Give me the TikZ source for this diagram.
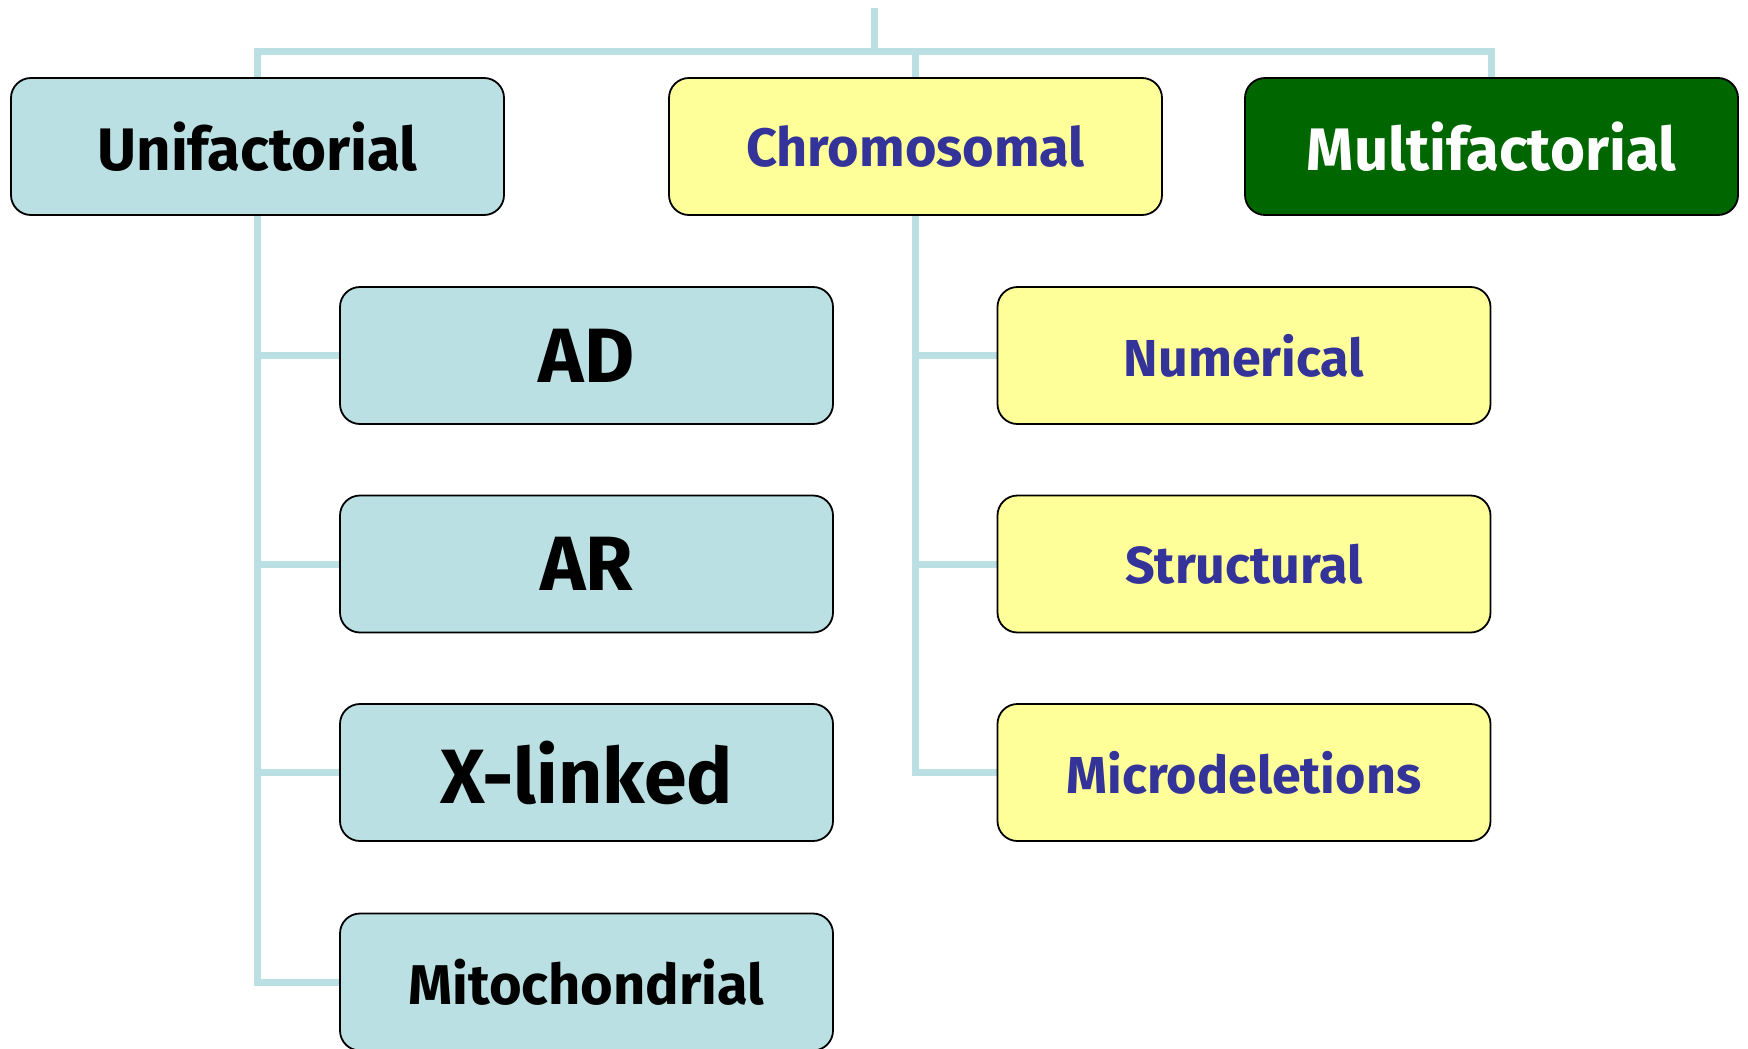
\documentclass[tikz,border=0pt]{standalone}
\usepackage{fontspec}
\setmainfont{Fira Sans}
\usetikzlibrary{backgrounds}
\definecolor{lblue}{HTML}{BBE0E3}
\definecolor{lyellow}{HTML}{FFFF99}
\definecolor{dgreen}{HTML}{006600}
\definecolor{tblue}{HTML}{333399}
\tikzset{
  box/.style={draw=black, line width=1.8pt, rounded corners=20pt, minimum width=493pt, minimum height=137pt, inner sep=0pt, font=\fontsize{60}{72}\selectfont\bfseries},
  bluebox/.style={box, fill=lblue, text=black},
  yelbox/.style={box, fill=lyellow, text=tblue},
  grnbox/.style={box, fill=dgreen, text=white},
  big/.style={font=\fontsize{77}{90}\selectfont\bfseries},
  fs/.style={font=\fontsize{#1}{#1}\selectfont\bfseries},
  conn/.style={draw=lblue, line width=7pt}
}
\begin{document}
\begin{tikzpicture}[x=1pt, y=-1pt]
\useasboundingbox (0,0) rectangle (1748,1049);
\clip (0,0) rectangle (1748,1049);
\node[bluebox] (uni) at (257.5,146.5) {Unifactorial};
\node[yelbox, fs=54] (chrom) at (915.5,146.5) {Chromosomal};
\node[grnbox] (multi) at (1491.5,146.5) {Multifactorial};
\node[bluebox, big] (ad) at (586.5,355.5) {AD};
\node[bluebox, big] (ar) at (586.5,564) {AR};
\node[bluebox, big] (xl) at (586.5,772.5) {X-linked};
\node[bluebox, fs=56] (mito) at (586.5,982) {Mitochondrial};
\node[yelbox, fs=52] (num) at (1244,355.5) {Numerical};
\node[yelbox, fs=52] (str) at (1244,564) {Structural};
\node[yelbox, fs=52] (micro) at (1244,772.5) {Microdeletions};
\coordinate (top) at (874,8);
\coordinate (bar) at (874,52);
\begin{pgfonlayer}{background}
\draw[conn] (top) -- (bar);
\draw[conn] (uni.north) |- (bar) -| (multi.north);
\draw[conn] (chrom.north) -- (chrom.north |- bar);
\draw[conn] (uni.south) |- (mito.west);
\draw[conn] (uni.south |- ad.west) -- (ad.west);
\draw[conn] (uni.south |- ar.west) -- (ar.west);
\draw[conn] (uni.south |- xl.west) -- (xl.west);
\draw[conn] (chrom.south) |- (micro.west);
\draw[conn] (chrom.south |- num.west) -- (num.west);
\draw[conn] (chrom.south |- str.west) -- (str.west);
\end{pgfonlayer}
\end{tikzpicture}
\end{document}
